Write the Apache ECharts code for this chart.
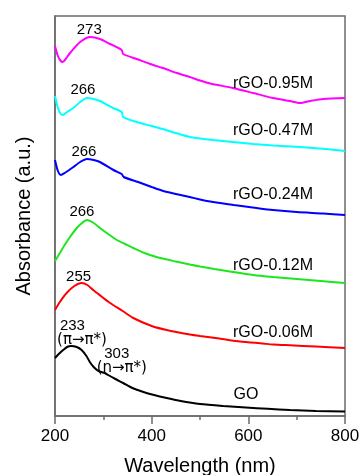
<!DOCTYPE html>
<html>
<head>
<meta charset="utf-8">
<style>
  html, body { margin: 0; padding: 0; background: #fff; }
  #chart { width: 363px; height: 475px; }
</style>
<script src="https://cdn.jsdelivr.net/npm/echarts@6/dist/echarts.min.js"></script>
</head>
<body>
<div id="chart"></div>
<script>
// UV-vis absorption spectra, curves offset vertically (arbitrary units)
const seriesNames = ['GO', 'rGO-0.06M', 'rGO-0.12M', 'rGO-0.24M', 'rGO-0.47M', 'rGO-0.95M'];

const wlGO = [200, 210, 217, 225, 233, 245, 255, 265, 272, 280, 290, 303, 310, 325, 341, 360, 383, 405, 431, 460, 500, 548, 595, 640, 686, 740, 800];
const absGO = [0.58, 0.63, 0.66, 0.69, 0.70, 0.69, 0.66, 0.60, 0.54, 0.49, 0.45, 0.43, 0.41, 0.37, 0.33, 0.28, 0.24, 0.21, 0.18, 0.15, 0.12, 0.10, 0.085, 0.072, 0.06, 0.05, 0.045];

const wl006 = [200, 210, 224, 240, 255, 267, 279, 295, 314, 340, 362, 400, 431, 479, 500, 540, 583, 630, 651, 686, 740, 800];
const abs006 = [1.06, 1.14, 1.23, 1.30, 1.33, 1.31, 1.26, 1.20, 1.13, 1.05, 0.98, 0.90, 0.86, 0.815, 0.80, 0.775, 0.745, 0.725, 0.715, 0.707, 0.695, 0.68];

const wl012 = [200, 210, 220, 231, 245, 256, 266, 280, 293, 310, 328, 345, 362, 385, 410, 450, 479, 500, 530, 568, 610, 651, 700, 750, 800];
const abs012 = [1.55, 1.63, 1.71, 1.79, 1.88, 1.93, 1.96, 1.93, 1.88, 1.82, 1.76, 1.72, 1.68, 1.63, 1.59, 1.545, 1.515, 1.495, 1.47, 1.44, 1.41, 1.39, 1.37, 1.35, 1.33];

const wl024 = [200, 206, 212, 220, 238, 252, 266, 280, 293, 321, 338, 342, 372, 400, 424, 479, 500, 521, 570, 617, 651, 700, 755, 800];
const abs024 = [2.56, 2.45, 2.41, 2.43, 2.49, 2.54, 2.57, 2.56, 2.54, 2.46, 2.42, 2.39, 2.34, 2.29, 2.25, 2.19, 2.165, 2.145, 2.11, 2.08, 2.06, 2.04, 2.025, 2.01];

const wl047 = [200, 206, 212, 216, 225, 238, 252, 266, 280, 293, 320, 338, 341, 369, 400, 423, 450, 479, 500, 527, 568, 610, 651, 707, 760, 800];
const abs047 = [3.20, 3.08, 3.02, 3.01, 3.04, 3.08, 3.14, 3.18, 3.17, 3.15, 3.08, 3.04, 2.99, 2.94, 2.90, 2.87, 2.83, 2.79, 2.775, 2.76, 2.74, 2.72, 2.705, 2.69, 2.67, 2.65];

const wl095 = [200, 206, 212, 216, 222, 231, 252, 273, 293, 314, 338, 341, 369, 397, 423, 452, 479, 500, 521, 568, 610, 651, 686, 707, 728, 755, 800];
const abs095 = [3.70, 3.60, 3.55, 3.54, 3.57, 3.63, 3.74, 3.79, 3.77, 3.72, 3.66, 3.62, 3.57, 3.52, 3.48, 3.43, 3.39, 3.355, 3.325, 3.28, 3.23, 3.18, 3.15, 3.13, 3.15, 3.17, 3.18];

// band positions marked on each spectrum (nm)
const peaksGO = [233, 303];
const peaks006 = [255];
const peaks012 = [266];
const peaks024 = [266];
const peaks047 = [266];
const peaks095 = [273];
const transitionsGO = ['(π→π*)', '(n→π*)'];

// wavelength under each curve's name label
const nameAnchorGO = 595;
const nameAnchorRGO = 651;

const xTicks = [200, 400, 600, 800];

const FONT = 'Liberation Sans, Arial, sans-serif';

// label placement relative to the anchoring point: [dx, dy] of the text's bottom-centre
const specs = [
  { wl: wlGO, abs: absGO, peaks: peaksGO, anchor: nameAnchorGO, color: '#000000',
    nameDist: 5, peakPos: [[11, 1], [17, 2]] },
  { wl: wl006, abs: abs006, peaks: peaks006, anchor: nameAnchorRGO, color: '#ff0000',
    nameDist: 4, peakPos: [[-3, 1]] },
  { wl: wl012, abs: abs012, peaks: peaks012, anchor: nameAnchorRGO, color: '#1ee61e',
    nameDist: 3, peakPos: [[-5, -1]] },
  { wl: wl024, abs: abs024, peaks: peaks024, anchor: nameAnchorRGO, color: '#0000ff',
    nameDist: 7, peakPos: [[-3, 0]] },
  { wl: wl047, abs: abs047, peaks: peaks047, anchor: nameAnchorRGO, color: '#00ffff',
    nameDist: 7, peakPos: [[-4, -1]] },
  { wl: wl095, abs: abs095, peaks: peaks095, anchor: nameAnchorRGO, color: '#ff00ff',
    nameDist: 6, peakPos: [[-1, 0]] }
];

function buildSeries(spec, idx) {
  const name = seriesNames[idx];
  const isGO = spec.wl === wlGO;
  const data = spec.wl.map((x, i) => {
    const item = { value: [x, spec.abs[i]] };
    const pk = spec.peaks.indexOf(x);
    if (pk >= 0) {
      item.label = {
        show: true,
        position: spec.peakPos[pk],
        align: 'center',
        verticalAlign: 'bottom',
        fontSize: 15,
        fontFamily: FONT,
        color: '#000',
        lineHeight: 15,
        formatter: isGO
          ? (p) => '{v|' + p.value[0] + '}\n{t|' + transitionsGO[pk] + '}'
          : (p) => String(p.value[0]),
        rich: isGO ? {
          v: { fontSize: 15, fontFamily: FONT, color: '#000', lineHeight: 14,
               padding: [0, pk === 0 ? 19 : 10, 0, 0] },
          t: { fontSize: 15, fontFamily: 'DejaVu Sans, ' + FONT, color: '#000', lineHeight: 14 }
        } : undefined
      };
    } else if (x === spec.anchor) {
      item.label = {
        show: true,
        position: 'top',
        distance: spec.nameDist,
        fontSize: 16,
        fontFamily: FONT,
        color: '#000',
        formatter: (p) => p.seriesName
      };
    }
    return item;
  });
  return {
    name: name,
    type: 'line',
    data: data,
    smooth: 0.25,
    showSymbol: true,
    showAllSymbol: true,
    symbol: 'circle',
    symbolSize: 0,
    itemStyle: { color: spec.color },
    lineStyle: { color: spec.color, width: 2 },
    label: { show: false },
    emphasis: { disabled: true },
    z: 3
  };
}

const chart = echarts.init(document.getElementById('chart'), null, { renderer: 'canvas' });
chart.setOption({
  animation: false,
  backgroundColor: '#ffffff',
  textStyle: { fontFamily: FONT },
  grid: {
    left: 55, right: 18, top: 16, bottom: 59,
    outerBoundsMode: 'none',
    containLabel: false,
    show: true, borderColor: '#6b6b6b', borderWidth: 1.5, backgroundColor: 'transparent'
  },
  xAxis: {
    type: 'value',
    min: 200, max: 800, interval: 200,
    name: 'Wavelength (nm)',
    nameLocation: 'middle',
    nameGap: 50,
    nameTextStyle: { fontSize: 20, color: '#000', fontFamily: FONT, verticalAlign: 'middle' },
    axisLine: { show: true, lineStyle: { color: '#6b6b6b', width: 1.5 } },
    axisTick: { show: true, length: 8, lineStyle: { color: '#6b6b6b', width: 1.5 } },
    minorTick: { show: true, splitNumber: 2, length: 4, lineStyle: { color: '#6b6b6b', width: 1.5 } },
    splitLine: { show: false },
    axisLabel: {
      fontSize: 17, color: '#000', fontFamily: FONT, margin: 12,
      formatter: (v) => (xTicks.indexOf(v) >= 0 ? String(v) : '')
    }
  },
  yAxis: {
    type: 'value',
    min: 0, max: 4,
    name: 'Absorbance (a.u.)',
    nameLocation: 'middle',
    nameGap: 31,
    nameTextStyle: { fontSize: 20, color: '#000', fontFamily: FONT, verticalAlign: 'middle' },
    axisLine: { show: true, lineStyle: { color: '#6b6b6b', width: 1.5 } },
    axisTick: { show: false },
    axisLabel: { show: false },
    splitLine: { show: false }
  },
  series: specs.map(buildSeries)
});
</script>
</body>
</html>
